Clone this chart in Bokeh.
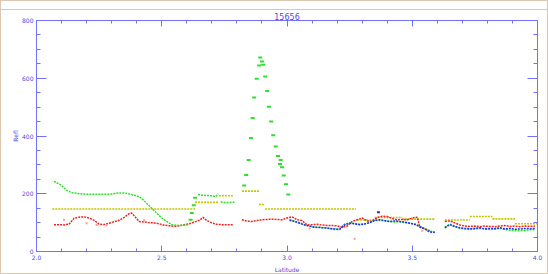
from bokeh.plotting import figure
from bokeh.models import FixedTicker, PrintfTickFormatter, LinearAxis
from bokeh.embed import file_html
from bokeh.resources import INLINE

nan = float("nan")

title = "15656"
x_label = "Latitude"
y_label = "Refl"
x_ticks = [2.0, 2.5, 3.0, 3.5, 4.0]
y_ticks = [0, 200, 400, 600, 800]

# green series (dense parts, NaN = gap)
green_x = [2.07, 2.085, 2.10, 2.12, 2.14, 2.17, 2.20, 2.24, 2.28, 2.30, 2.32, 2.35, 2.38, 2.40, 2.42,
           2.44, 2.46, 2.48, 2.50, 2.52, 2.54, 2.57, 2.59, 2.61, nan,
           2.645, 2.66, 2.68, 2.70, 2.715, 2.725, nan,
           2.735, 2.75, 2.77, 2.79, nan,
           3.01, 3.03, 3.05, 3.07, 3.09, 3.11, 3.13, 3.15, 3.17, 3.19, 3.21, 3.23, 3.25, 3.27, 3.29,
           3.31, 3.33, 3.35, 3.37, 3.39, 3.41, 3.43, 3.45, 3.47, 3.49, 3.51, 3.53, 3.55, 3.57, 3.59, nan,
           3.63, 3.65, 3.67, 3.69, 3.71, 3.73, 3.75, 3.77, 3.79, 3.81, 3.83, 3.85, 3.87, 3.89, 3.91,
           3.93, 3.95, 3.97, 3.99]
green_y = [243, 236, 229, 212, 204, 200, 198, 198, 198, 199, 202, 203, 197, 193, 184,
           167, 150, 133, 116, 104, 93, 90, 91, 93, nan,
           197, 195, 194, 193, 190, 200, nan,
           172, 170, 170, 171, nan,
           112, 105, 100, 93, 88, 84, 84, 82, 80, 76, 80, 95, 99, 97, 94,
           96, 100, 107, 108, 106, 104, 102, 103, 100, 98, 96, 88, 80, 70, 68, nan,
           84, 95, 88, 80, 78, 76, 78, 80, 78, 76, 78, 80, 76, 74, 72,
           72, 73, 75, 76]

# green isolated points (rise and spike)
green_pts_x = [2.615, 2.62, 2.628, 2.633, 2.829, 2.837, 2.847, 2.856, 2.863, 2.869, 2.879, 2.889,
               2.893, 2.900, 2.905, 2.913, 2.921, 2.928, 2.937, 2.945, 2.955, 2.964, 2.972, 2.975,
               2.980, 2.987, 2.996, 3.005]
green_pts_y = [110, 133, 160, 186, 229, 265, 317, 393, 462, 533, 598, 644,
               672, 658, 647, 606, 556, 501, 450, 403, 364, 331, 303, 317,
               292, 263, 233, 197]

# red series
red_x = [2.07, 2.09, 2.11, 2.13, 2.15, 2.17, 2.19, 2.21, 2.23, 2.25, 2.27, 2.29, 2.31, 2.33, 2.35,
         2.37, 2.38, 2.39, 2.41, 2.43, 2.45, 2.47, 2.49, 2.51, 2.53, 2.55, 2.57, 2.59, 2.61, 2.63,
         2.65, 2.665, 2.68, 2.70, 2.72, 2.74, 2.76, 2.785, nan,
         2.82, 2.84, 2.86, 2.88, 2.90, 2.92, 2.94, 2.96, 2.98, 3.00, 3.02, 3.04, 3.06, 3.08, 3.10,
         3.12, 3.14, 3.16, 3.18, 3.20, 3.22, 3.24, 3.26, 3.28, 3.30, 3.32, 3.34, 3.36, 3.38, 3.40,
         3.42, 3.44, 3.46, 3.48, 3.50, 3.52, 3.53, 3.55, 3.57, nan,
         3.63, 3.65, 3.67, 3.69, 3.71, 3.73, 3.75, 3.77, 3.79, 3.81, 3.83, 3.85, 3.87, 3.89, 3.91,
         3.93, 3.95, 3.97, 3.99]
red_y = [93, 93, 92, 95, 115, 119, 120, 116, 108, 95, 93, 98, 103, 108, 118,
         131, 133, 124, 104, 102, 100, 99, 96, 91, 89, 87, 89, 93, 96, 102,
         108, 118, 107, 99, 94, 93, 93, 93, nan,
         110, 105, 104, 107, 110, 111, 112, 111, 110, 116, 120, 110, 107, 92, 93,
         94, 92, 90, 90, 89, 84, 88, 104, 110, 116, 106, 104, 118, 122, 121,
         114, 110, 111, 110, 116, 119, 84, 79, 72, nan,
         104, 106, 99, 92, 88, 87, 88, 86, 88, 87, 86, 88, 90, 87, 88,
         86, 88, 87, 88]

# faint red scatter
red_faint_x = [2.11, 2.20, 2.24, 2.28, 2.43, 3.09, 3.27, 3.54]
red_faint_y = [110, 98, 92, 91, 108, 80, 44, 72]

# blue series
blue_x = [3.01, 3.03, 3.05, 3.07, 3.09, 3.11, 3.13, 3.15, 3.17, 3.19, 3.21, 3.23, 3.25, 3.27, 3.29,
          3.31, 3.33, 3.35, 3.37, 3.39, 3.41, 3.43, 3.45, 3.47, 3.49, 3.51, 3.53, 3.55, 3.57, 3.59, nan,
          3.63, 3.65, 3.67, 3.69, 3.71, 3.73, 3.75, 3.77, 3.79, 3.81, 3.83, 3.85, 3.87, 3.89, 3.91,
          3.93, 3.95, 3.97, 3.99]
blue_y = [108, 104, 98, 92, 88, 84, 83, 82, 80, 78, 76, 92, 98, 96, 93,
          95, 100, 108, 110, 107, 104, 106, 104, 102, 98, 94, 86, 78, 68, 66, nan,
          82, 93, 86, 82, 80, 79, 80, 82, 78, 80, 79, 82, 78, 80, 77,
          78, 80, 79, 80]
blue_pt_x = [3.365]
blue_pt_y = [136]

# yellow series: constant runs
yellow_x0 = [2.063, 2.633, 2.728, 2.820, 2.888, 2.912, 3.280, 3.350, 3.460, 3.630, 3.730, 3.820, 3.910]
yellow_x1 = [2.633, 2.728, 2.788, 2.888, 2.912, 3.275, 3.350, 3.460, 3.590, 3.730, 3.820, 3.910, 4.000]
yellow_y = [147, 170, 193, 209, 163, 147, 109, 118, 112, 109, 121, 113, 96]

AX = "#7272ff"
TX = "#4c4cdc"
GREEN = "#2ee02e"
RED = "#ee2424"
BLUE = "#2030f0"
YELLOW = "#c4c400"
CHROME = "#dcc8b0"

p = figure(width=548, height=274, x_range=(2.0, 4.0), y_range=(0, 800),
           output_backend="svg", toolbar_location=None,
           min_border_left=35, min_border_right=12, min_border_top=19, min_border_bottom=20,
           background_fill_color="white", border_fill_color=None)
p.styles = {
    "border": "1px solid " + CHROME,
    "box-sizing": "border-box",
    "background": "linear-gradient(#ffffff 0px, #ffffff 8px, " + CHROME + " 8px, "
                  + CHROME + " 9px, #ffffff 9px, #ffffff 100%)",
}
p.outline_line_color = None
p.xgrid.visible = False
p.ygrid.visible = False

p.title.text = title
p.title.align = "center"
p.title.text_font = "DejaVu Sans"
p.title.text_font_size = "8px"
p.title.text_font_style = "normal"
p.title.text_color = TX
p.title.standoff = 1

x_minor = [round(2.0 + 0.1 * i, 1) for i in range(21)]
y_minor = [50 * i for i in range(17)]

def style_common(ax, labels):
    ax.axis_line_color = AX
    ax.major_tick_line_color = AX
    ax.minor_tick_line_color = AX
    ax.major_tick_out = 0
    ax.minor_tick_out = 0
    ax.major_label_text_font = "DejaVu Sans"
    ax.major_label_standoff = 3
    if labels:
        ax.major_label_text_color = TX
        ax.major_label_text_font_size = "6px"
    else:
        ax.major_label_text_color = None
        ax.major_label_text_font_size = "1px"
        ax.major_label_standoff = 0

def style_x(ax, labels=True):
    ax.ticker = FixedTicker(ticks=x_ticks, minor_ticks=x_minor)
    ax.formatter = PrintfTickFormatter(format="%.1f")
    ax.major_tick_in = 6
    ax.minor_tick_in = 3
    style_common(ax, labels)

def style_y(ax, labels=True):
    ax.ticker = FixedTicker(ticks=y_ticks, minor_ticks=y_minor)
    ax.formatter = PrintfTickFormatter(format="%d")
    ax.major_tick_in = 10
    ax.minor_tick_in = 4
    style_common(ax, labels)

style_x(p.xaxis[0])
style_y(p.yaxis[0])
p.xaxis[0].axis_label = x_label
p.yaxis[0].axis_label = y_label
for ax in (p.xaxis[0], p.yaxis[0]):
    ax.axis_label_text_color = TX
    ax.axis_label_text_font = "DejaVu Sans"
    ax.axis_label_text_font_size = "6px"
    ax.axis_label_text_font_style = "normal"
p.xaxis[0].axis_label_standoff = 3
p.yaxis[0].axis_label_standoff = 0

top_ax = LinearAxis()
style_x(top_ax, labels=False)
p.add_layout(top_ax, "above")
right_ax = LinearAxis()
style_y(right_ax, labels=False)
p.add_layout(right_ax, "right")

# data
p.segment(x0=yellow_x0, x1=yellow_x1, y0=yellow_y, y1=yellow_y,
          line_color=YELLOW, line_width=1.6, line_dash="2 1")
p.line(red_x, red_y, line_color=RED, line_width=1.5, line_dash="2 1")
p.rect(red_faint_x, red_faint_y, width=2, height=2, width_units="screen", height_units="screen",
       fill_color="#ff9a9a", line_color=None)
p.line(green_x, green_y, line_color=GREEN, line_width=1.5, line_dash="2 1")
p.line(blue_x, blue_y, line_color=BLUE, line_width=1.5, line_dash="2 1")
p.rect(green_pts_x, green_pts_y, width=4, height=2, width_units="screen", height_units="screen",
       fill_color=GREEN, line_color=None)
p.rect(blue_pt_x, blue_pt_y, width=3, height=2, width_units="screen", height_units="screen",
       fill_color=BLUE, line_color=None)

open("out.html", "w").write(file_html(p, INLINE))
